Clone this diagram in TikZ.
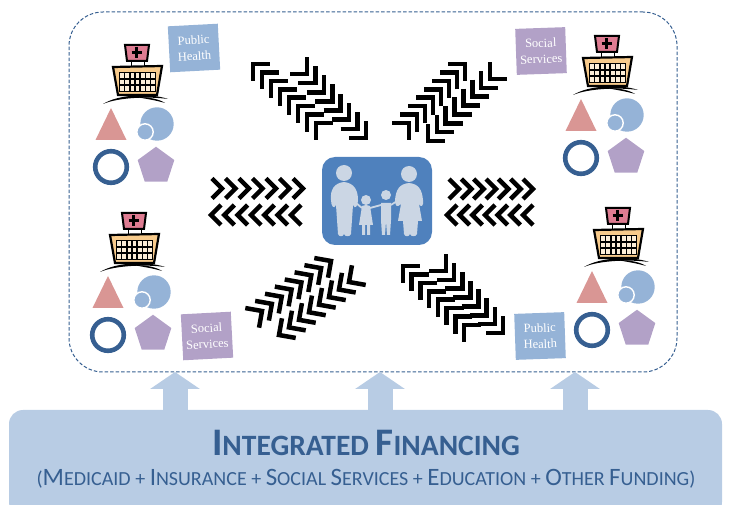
\documentclass[tikz,border=0pt]{standalone}
\usepackage{fontspec}
\setmainfont{Carlito}
\newfontfamily\labelfont{Liberation Serif}
\usetikzlibrary{arrows.meta,shapes.geometric}
\definecolor{panelblue}{HTML}{B8CCE4}
\definecolor{darkblue}{HTML}{365F91}
\definecolor{midblue}{HTML}{95B3D7}
\definecolor{familyblue}{HTML}{4F81BD}
\definecolor{familylight}{HTML}{CBD6E4}
\definecolor{softred}{HTML}{D99694}
\definecolor{softpurple}{HTML}{B2A1C7}
\definecolor{signpink}{HTML}{DE7C92}
\definecolor{wallorange}{HTML}{F8CB8C}
\tikzset{
  chevron/.style={draw=black,line width=4.5pt,miter limit=10},
  servicebox/.style={minimum width=50pt,minimum height=46pt,inner sep=0pt,align=center,
    text=white,font=\labelfont\fontsize{12.5}{16}\selectfont},
  fundarrow/.style={-{Triangle[length=17pt,width=49pt]},line width=25pt,draw=panelblue},
}
\newcommand{\titlecap}[1]{{\fontsize{39}{39}\selectfont #1}}
\newcommand{\fundcap}[1]{{\fontsize{25}{25}\selectfont #1}}
% one row of chevrons: from (x1,y1) to (x2,y2), last index, direction, arm
\newcommand{\chevronrow}[7]{
  \foreach \i in {0,...,#5} {
    \pgfmathsetmacro{\cx}{#1+(#3-#1)*\i/#5}
    \pgfmathsetmacro{\cy}{#2+(#4-#2)*\i/#5}
    \begin{scope}[shift={(\cx,\cy)},rotate=#6]
      \draw[chevron] (-#7,#7) -- (0,0) -- (-#7,-#7);
    \end{scope}
  }
}
% hospital with its four shapes, origin at the foot of the triangle
\newcommand{\hospitalgroup}[2]{
  \begin{scope}[shift={(#1,#2)}]
    \draw[black,line width=1pt] (20,-79) -- (20,-73) (33,-79) -- (33,-73);
    \draw[black,line width=2pt,fill=signpink] (14,-95) -- (38,-95) -- (36,-79) -- (16,-79) -- cycle;
    \draw[black,line width=2.8pt] (20.5,-87.5) -- (31,-87.5) (25.8,-93) -- (25.8,-82);
    \draw[black,line width=2.2pt,fill=wallorange] (2,-73) -- (51,-74) -- (46,-45) -- (7,-45) -- cycle;
    \fill[black] (8,-68) rectangle (45,-48);
    \foreach \c in {0,...,6} {
      \foreach \r in {0,1,2} {
        \fill[wallorange!35] (9.3+5.1*\c,-66.7+6.3*\r) rectangle ++(3.8,4.8);
      }
    }
    \fill[black] (-8,-36) .. controls (8,-46) and (40,-47) .. (57,-41) .. controls (40,-43.5) and (8,-43) .. (-8,-36);
    \fill[black] (25,-43) .. controls (38,-43) and (48,-41) .. (54,-37) .. controls (46,-39.5) and (36,-41) .. (25,-43);
    \fill[softred] (0,-32) -- (15.5,0) -- (-15.5,0) -- cycle;
    \fill[midblue] (46,-16) circle (16.7);
    \draw[white,line width=1.4pt,fill=midblue] (34,-8) circle (8.2);
    \draw[darkblue,line width=4.6pt] (0,27) circle (15.8);
    \node[regular polygon,regular polygon sides=5,fill=softpurple,minimum size=38.5pt,inner sep=0pt] at (45,26) {};
  \end{scope}
}
\begin{document}
\begin{tikzpicture}[x=1pt,y=-1pt]
\useasboundingbox (0,0) rectangle (732,505);
\clip (0,0) rectangle (732,505);

\node[draw=darkblue,dash pattern=on 3.5pt off 2pt,line width=1pt,rounded corners=34pt,minimum width=608pt,minimum height=360pt,inner sep=0pt,outer sep=0pt] (care) at (373,192) {};
\node[fill=panelblue,rounded corners=14pt,minimum width=713pt,minimum height=106pt,inner sep=0pt,outer sep=0pt] (finance) at (365.5,463) {};
\node[text=darkblue,font=\bfseries\fontsize{29.5}{29.5}\selectfont,inner sep=0pt] (title) at (366,443) {\titlecap{I}NTEGRATED \titlecap{F}INANCING};
\node[text=darkblue,font=\fontsize{20}{20}\selectfont,inner sep=0pt] (funding) at (366,479) {(\fundcap{M}EDICAID + \fundcap{I}NSURANCE + \fundcap{S}OCIAL \fundcap{S}ERVICES + \fundcap{E}DUCATION + \fundcap{O}THER \fundcap{F}UNDING)};

\coordinate (f1) at (175,410);
\coordinate (f2) at (380,410);
\coordinate (f3) at (575,410);
\draw[fundarrow] (f1) -- (f1 |- care.south);
\draw[fundarrow] (f2) -- (f2 |- care.south);
\draw[fundarrow] (f3) -- (f3 |- care.south);

\node[fill=familyblue,rounded corners=13pt,minimum width=110pt,minimum height=88pt,inner sep=0pt] (family) at (377,201) {};
\begin{scope}[familylight]
  \fill (344,173) circle (8);
  \fill (409,174) circle (8);
  \fill (366,200) circle (5);
  \fill (386,195) circle (5);
  % father
  \fill (344,182) .. controls (334,183) and (330,190) .. (331,200) .. controls (331,206) and (334,210) .. (336,205) -- (338,234) .. controls (339,237) and (343,237) .. (344,234) .. controls (345,237) and (350,237) .. (351,234) -- (353,205) .. controls (355,210) and (358,206) .. (358,200) .. controls (358,190) and (354,183) .. (344,182) -- cycle;
  % mother
  \fill (409,183) .. controls (399,184) and (396,190) .. (395,200) .. controls (395,206) and (397,208) .. (401,204) -- (398,221) -- (403,221) -- (404,234) .. controls (405,237) and (409,237) .. (410,234) .. controls (411,237) and (416,237) .. (417,234) -- (418,221) -- (422,221) -- (419,204) .. controls (421,208) and (424,206) .. (423,200) .. controls (422,190) and (419,184) .. (409,183) -- cycle;
  % girl
  \fill (366,205) -- (370,206) -- (373,225) -- (370,225) -- (370,235) -- (367,235) -- (367,225) -- (365,225) -- (365,235) -- (362,235) -- (362,225) -- (359,225) -- (362,206) -- cycle;
  % boy
  \fill (381,203) -- (391,203) -- (391,220) -- (390,235) -- (387,235) -- (386,221) -- (385,235) -- (382,235) -- (381,220) -- cycle;
  \draw[line width=1.8pt] (356,203) -- (362,208) (370,208) -- (381,205) (391,205) -- (397,201);
\end{scope}

% arrows towards and away from the family
\chevronrow{222}{188.5}{303}{188.5}{6}{0}{10}
\chevronrow{291}{215}{211}{215}{6}{180}{10}
\chevronrow{459}{189}{533}{189}{6}{0}{10}
\chevronrow{523}{215}{447}{215}{6}{180}{10}
\chevronrow{253}{64}{316}{123}{7}{135}{12}
\chevronrow{307}{74}{366}{138}{7}{-45}{12}
\chevronrow{465}{64}{409}{123}{7}{45}{12}
\chevronrow{490}{79}{428}{141}{7}{225}{12}
\chevronrow{331}{261}{262}{311}{7}{35}{12}
\chevronrow{349}{282}{279}{335}{7}{215}{12}
\chevronrow{403}{266}{464}{325}{7}{135}{12}
\chevronrow{446}{271}{503}{333}{7}{-45}{12}

\hospitalgroup{111}{140}
\hospitalgroup{581}{131}
\hospitalgroup{108}{308}
\hospitalgroup{592}{303}

\node[servicebox,fill=midblue,rotate=3] (healthtop) at (194,48) {Public\\Health};
\node[servicebox,fill=softpurple,rotate=2] (socialtop) at (541,51) {Social\\Services};
\node[servicebox,fill=softpurple,rotate=3] (socialbottom) at (207,336) {Social\\Services};
\node[servicebox,fill=midblue,rotate=2] (healthbottom) at (540,336) {Public\\Health};
\end{tikzpicture}
\end{document}
